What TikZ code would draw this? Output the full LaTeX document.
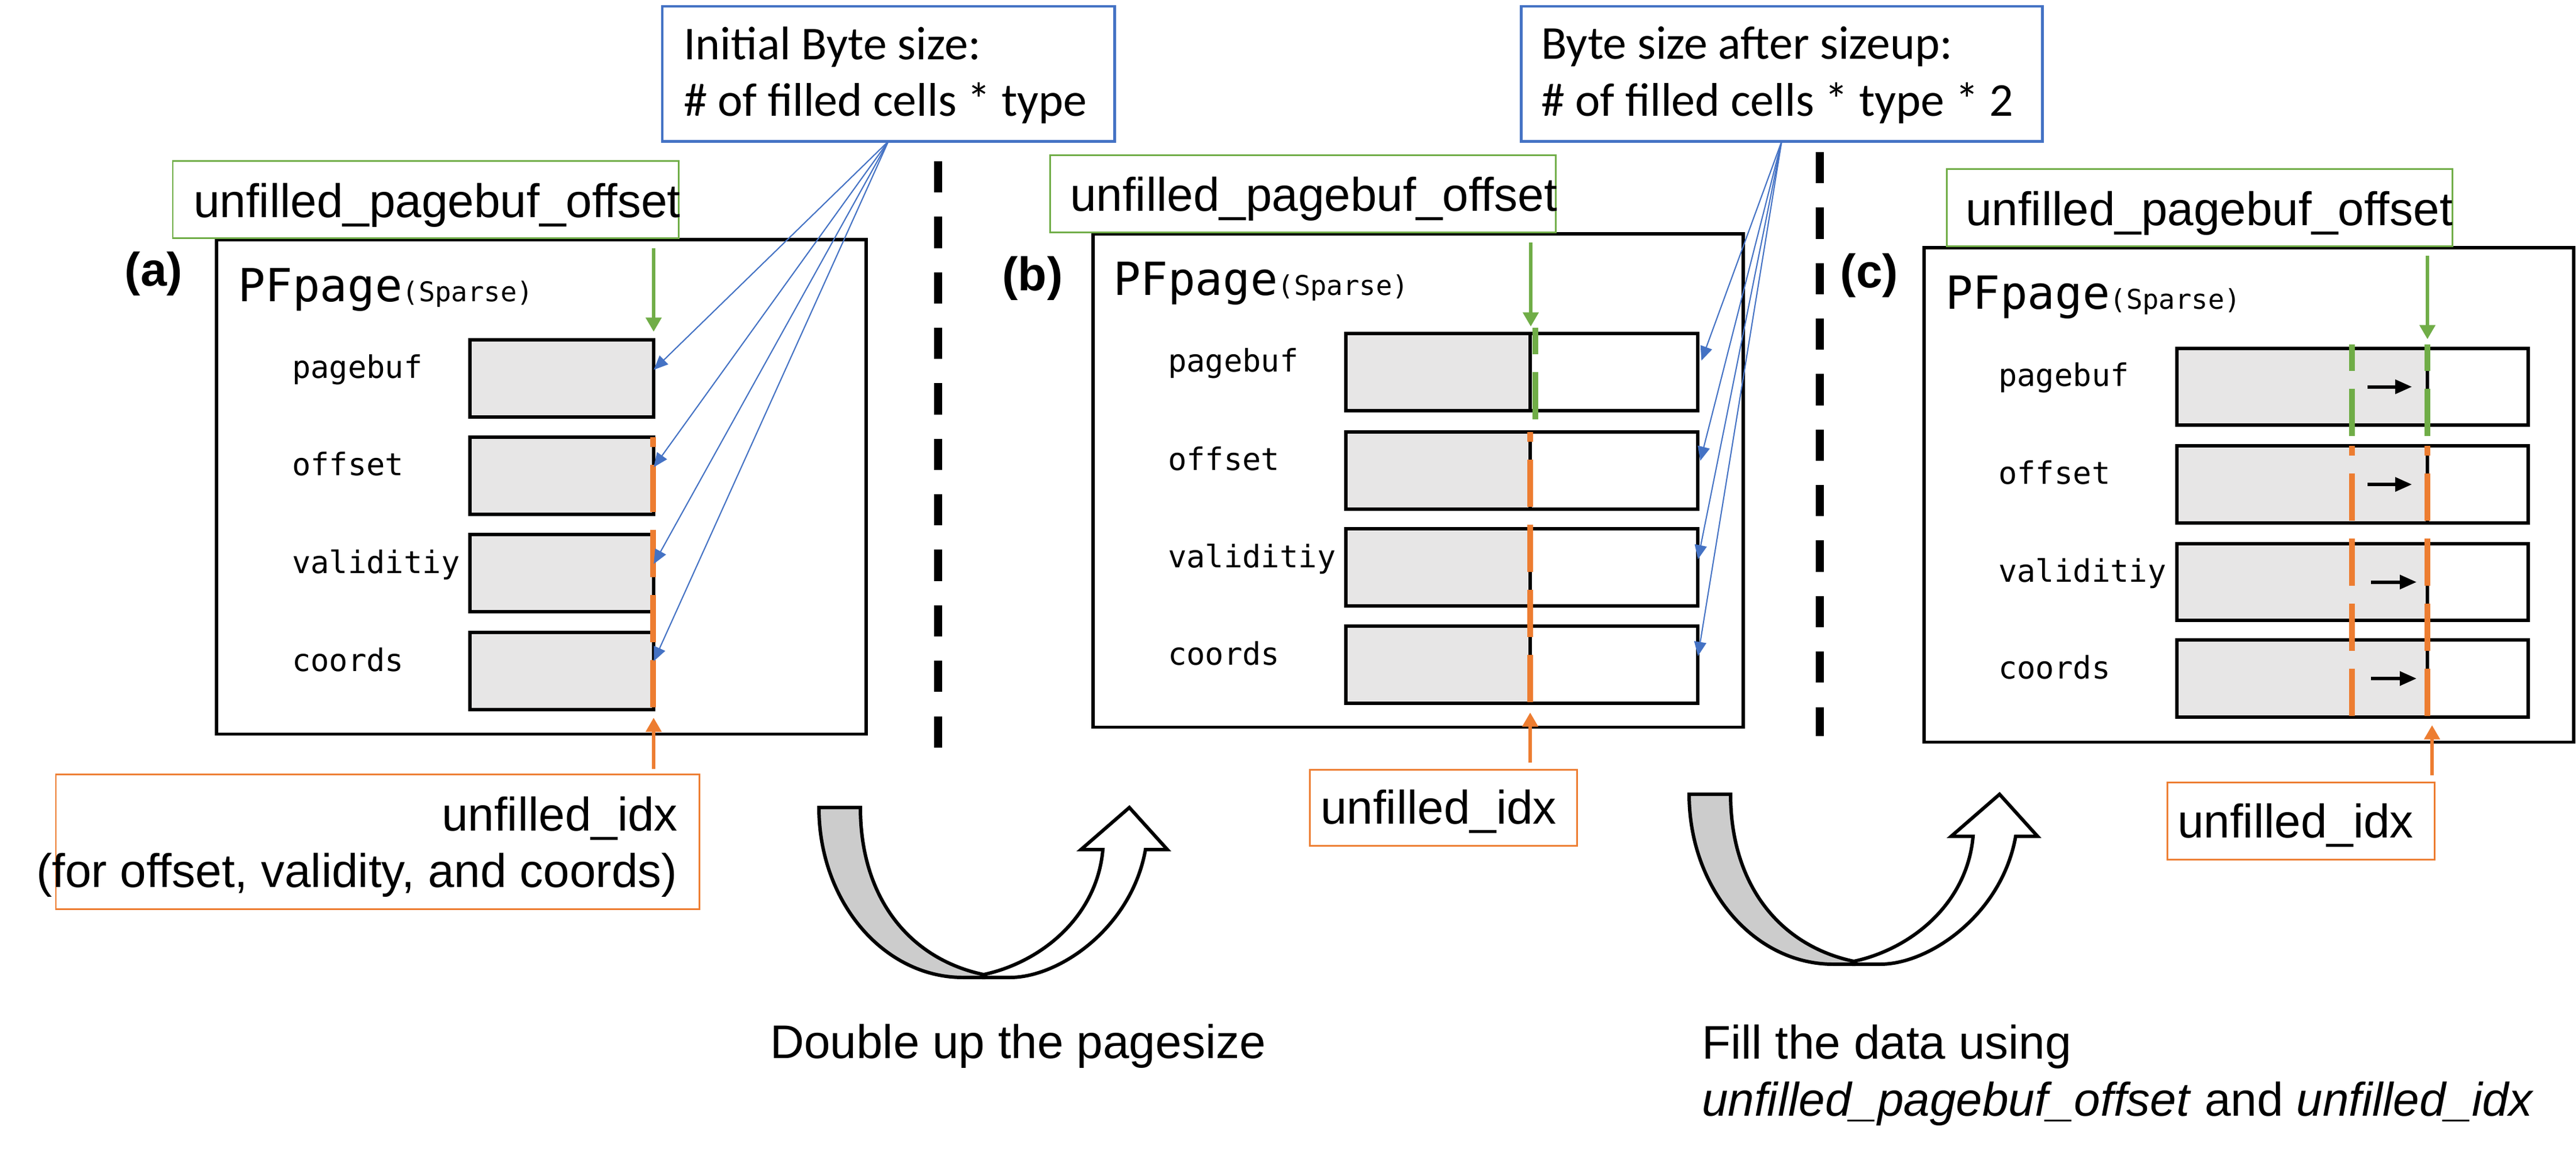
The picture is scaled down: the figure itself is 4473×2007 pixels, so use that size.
\documentclass[tikz,border=0pt]{standalone}
\usepackage{fontspec}
\setmainfont{Liberation Sans}
\newfontfamily\pfcalib{Carlito}
\newfontfamily\pfmono{DejaVu Sans Mono}
\usetikzlibrary{arrows.meta}
\definecolor{pfgreen}{HTML}{70AD47}
\definecolor{pforange}{HTML}{ED7D31}
\definecolor{pfblue}{HTML}{4472C4}
\definecolor{cellgray}{HTML}{E7E6E6}
\definecolor{arrowgray}{HTML}{CCCCCC}
\newcommand\arsz{\fontsize{23.3pt}{28pt}\selectfont}
\newcommand\calsz{\pfcalib\fontsize{23.3pt}{28pt}\selectfont}
\newcommand\lblsz{\pfmono\fontsize{15.3pt}{18pt}\selectfont}
\newcommand\pfsz{\pfmono\fontsize{22.5pt}{26pt}\selectfont}
\newcommand\spsz{\pfmono\fontsize{13.4pt}{16pt}\selectfont}
\begin{document}
\begin{tikzpicture}[x=0.01cm,y=-0.01cm,
 outerbox/.style={draw=black,line width=1.7pt,anchor=north west,inner sep=0,outer sep=0,minimum width=11.27cm,minimum height=8.58cm},
 cellbox/.style={draw=black,line width=1.7pt,anchor=north west,inner sep=0,outer sep=0,minimum height=1.34cm},
 gbox/.style={draw=pfgreen,line width=0.85pt,anchor=north west,inner sep=0,outer sep=0,minimum width=8.78cm,minimum height=1.33cm},
 obox/.style={draw=pforange,line width=0.85pt,anchor=north west,inner sep=0,outer sep=0},
 bluebox/.style={draw=pfblue,line width=1.4pt,anchor=north west,inner sep=0,outer sep=0,minimum height=2.34cm},
 txt/.style={anchor=base west,inner sep=0,outer sep=0},
 txtr/.style={anchor=base east,inner sep=0,outer sep=0},
 panellbl/.style={anchor=center,inner sep=0,outer sep=0,font=\arsz\bfseries},
 garrow/.style={draw=pfgreen,line width=1.9pt,-{Triangle[length=7pt,width=7.5pt]}},
 oarrow/.style={draw=pforange,line width=1.9pt,-{Triangle[length=7pt,width=7.5pt]}},
 barrow/.style={draw=pfblue,line width=0.6pt,-{Triangle[length=7pt,width=6pt]}},
 karrow/.style={draw=black,line width=1.7pt,-{Triangle[length=8.3pt,width=6.8pt]}},
 gdash/.style={draw=pfgreen,line width=2.6pt,dash pattern=on 23.33pt off 8.82pt,dash phase=10.2pt},
 odash/.style={draw=pforange,line width=2.6pt,dash pattern=on 23.33pt off 8.82pt,dash phase=18.5pt},
 sepline/.style={draw=black,line width=4pt,dash pattern=on 15.4pt off 12pt},
 divline/.style={draw=black,line width=1.7pt},
 curvearrow/.style={draw=black,line width=1.7pt,line join=miter}
]
\useasboundingbox (0,0) rectangle (4473,2007);
\fill[white] (0,0) rectangle (4473,2007);

% separators
\coordinate (s1a) at (1629,280); \coordinate (s1b) at (1629,1298);
\coordinate (s2a) at (3160,264); \coordinate (s2b) at (3160,1278);
\draw[sepline] (s1a) -- (s1b);
\draw[sepline] (s2a) -- (s2b);

% ---------- panel (a) ----------
\node[outerbox] (pa) at (376,416) {};
\node[gbox] (gba) at (300,280) {};
\node[txt,font=\arsz] (gta) at (336,378) {unfilled\_pagebuf\_offset};
\node[panellbl] (la) at (267,475) {(a)};
\node[txt] (pfa) at (413,524) {\pfsz PFpage\spsz(Sparse)};
\node[cellbox,fill=cellgray,minimum width=3.19cm] (a1) at (816,590) {};
\node[cellbox,fill=cellgray,minimum width=3.19cm] (a2) at (816,759) {};
\node[cellbox,fill=cellgray,minimum width=3.19cm] (a3) at (816,928) {};
\node[cellbox,fill=cellgray,minimum width=3.19cm] (a4) at (816,1098) {};
\node[txt,font=\lblsz] (ta1) at (507,657) {pagebuf};
\node[txt,font=\lblsz] (ta2) at (507,826) {offset};
\node[txt,font=\lblsz] (ta3) at (507,995) {validitiy};
\node[txt,font=\lblsz] (ta4) at (507,1165) {coords};
\draw[odash] (1134,759) -- (1134,1232);
\coordinate (ga0) at (1135,431); \coordinate (ga1) at (1135,576);
\draw[garrow] (ga0) -- (ga1);
\node[obox,minimum width=11.17cm,minimum height=2.34cm] (oba) at (97,1344) {};
\node[txtr,font=\arsz] (ota1) at (1177,1442) {unfilled\_idx};
\node[txtr,font=\arsz] (ota2) at (1176,1540) {(for offset, validity, and coords)};
\coordinate (oa0) at (1135,1335); \coordinate (oa1) at (1135,1246);
\draw[oarrow] (oa0) -- (oa1);

% ---------- panel (b) ----------
\node[outerbox,minimum width=11.28cm,minimum height=8.56cm] (pb) at (1898,406) {};
\node[gbox] (gbb) at (1823,270) {};
\node[txt,font=\arsz] (gtb) at (1858,367) {unfilled\_pagebuf\_offset};
\node[panellbl] (lb) at (1793,483) {(b)};
\node[txt] (pfb) at (1933,513) {\pfsz PFpage\spsz(Sparse)};
\fill[cellgray] (2337,579) rectangle (2657,713);
\fill[cellgray] (2337,750) rectangle (2657,884);
\fill[cellgray] (2337,918) rectangle (2657,1052);
\fill[cellgray] (2337,1087) rectangle (2657,1221);
\node[cellbox,minimum width=6.11cm] (b1) at (2337,579) {};
\node[cellbox,minimum width=6.11cm] (b2) at (2337,750) {};
\node[cellbox,minimum width=6.11cm] (b3) at (2337,918) {};
\node[cellbox,minimum width=6.11cm] (b4) at (2337,1087) {};
\draw[divline] (2657,579) -- (2657,713);
\draw[divline] (2657,750) -- (2657,884);
\draw[divline] (2657,918) -- (2657,1052);
\draw[divline] (2657,1087) -- (2657,1221);
\node[txt,font=\lblsz] (tb1) at (2028,646) {pagebuf};
\node[txt,font=\lblsz] (tb2) at (2028,817) {offset};
\node[txt,font=\lblsz] (tb3) at (2028,985) {validitiy};
\node[txt,font=\lblsz] (tb4) at (2028,1154) {coords};
\draw[gdash] (2666,569) -- (2666,728);
\draw[odash] (2657,750) -- (2657,1221);
\coordinate (gb0) at (2658,421); \coordinate (gb1) at (2658,567);
\draw[garrow] (gb0) -- (gb1);
\node[obox,minimum width=4.64cm,minimum height=1.32cm] (obb) at (2274,1336) {};
\node[txt,font=\arsz] (otb) at (2293,1430) {unfilled\_idx};
\coordinate (ob0) at (2657,1324); \coordinate (ob1) at (2657,1237);
\draw[oarrow] (ob0) -- (ob1);

% ---------- panel (c) ----------
\node[outerbox,minimum width=11.27cm,minimum height=8.58cm] (pc) at (3341,430) {};
\node[gbox] (gbc) at (3380,294) {};
\node[txt,font=\arsz] (gtc) at (3413,392) {unfilled\_pagebuf\_offset};
\node[panellbl] (lc) at (3246,478) {(c)};
\node[txt] (pfc) at (3378,537) {\pfsz PFpage\spsz(Sparse)};
\fill[cellgray] (3780,605) rectangle (4215,738);
\fill[cellgray] (3780,774) rectangle (4215,908);
\fill[cellgray] (3780,944) rectangle (4215,1077);
\fill[cellgray] (3780,1111) rectangle (4215,1245);
\node[cellbox,minimum width=6.10cm,minimum height=1.33cm] (c1) at (3780,605) {};
\node[cellbox,minimum width=6.10cm] (c2) at (3780,774) {};
\node[cellbox,minimum width=6.10cm,minimum height=1.33cm] (c3) at (3780,944) {};
\node[cellbox,minimum width=6.10cm] (c4) at (3780,1111) {};
\draw[divline] (4215,605) -- (4215,738);
\draw[divline] (4215,774) -- (4215,908);
\draw[divline] (4215,944) -- (4215,1077);
\draw[divline] (4215,1111) -- (4215,1245);
\node[txt,font=\lblsz] (tc1) at (3470,671) {pagebuf};
\node[txt,font=\lblsz] (tc2) at (3470,841) {offset};
\node[txt,font=\lblsz] (tc3) at (3470,1010) {validitiy};
\node[txt,font=\lblsz] (tc4) at (3470,1178) {coords};
\draw[gdash] (4084,598) -- (4084,758);
\draw[gdash] (4215,598) -- (4215,758);
\draw[odash] (4084,774) -- (4084,1245);
\draw[odash] (4215,774) -- (4215,1245);
\draw[karrow] ([xshift=3.31cm]c1.west) -- ([xshift=4.08cm]c1.west);
\draw[karrow] ([xshift=3.31cm]c2.west) -- ([xshift=4.08cm]c2.west);
\draw[karrow] ([xshift=3.37cm]c3.west) -- ([xshift=4.16cm]c3.west);
\draw[karrow] ([xshift=3.37cm]c4.west) -- ([xshift=4.16cm]c4.west);
\coordinate (gc0) at (4215,444); \coordinate (gc1) at (4215,589);
\draw[garrow] (gc0) -- (gc1);
\node[obox,minimum width=4.64cm,minimum height=1.34cm] (obc) at (3763,1358) {};
\node[txt,font=\arsz] (otc) at (3781,1454) {unfilled\_idx};
\coordinate (oc0) at (4223,1346); \coordinate (oc1) at (4223,1259);
\draw[oarrow] (oc0) -- (oc1);

% ---------- blue boxes ----------
\node[bluebox,minimum width=7.85cm] (bl1) at (1150,11) {};
\node[txt,font=\calsz] (bt1a) at (1187,104) {Initial Byte size:};
\node[txt,font=\calsz] (bt1b) at (1187,202) {\# of filled cells * type};
\node[bluebox,minimum width=9.05cm] (bl2) at (2641,11) {};
\node[txt,font=\calsz] (bt2a) at (2676,103) {Byte size after sizeup:};
\node[txt,font=\calsz] (bt2b) at (2676,202) {\# of filled cells * type * 2};

\draw[barrow] (bl1.south) -- ([yshift=0.15cm]a1.east);
\draw[barrow] (bl1.south) -- ([yshift=0.15cm]a2.east);
\draw[barrow] (bl1.south) -- ([yshift=0.16cm]a3.east);
\draw[barrow] (bl1.south) -- ([yshift=0.17cm]a4.east);
\draw[barrow] (bl2.south) -- ([xshift=0.06cm,yshift=0.2cm]b1.east);
\draw[barrow] (bl2.south) -- ([xshift=0.04cm,yshift=0.17cm]b2.east);
\draw[barrow] (bl2.south) -- ([yshift=0.14cm]b3.east);
\draw[barrow] (bl2.south) -- ([yshift=0.15cm]b4.east);

% ---------- curved arrows ----------
\foreach \dx/\dy in {0/0, 1511/-23} {
\begin{scope}[shift={(\dx,\dy)}]
\filldraw[curvearrow,fill=arrowgray] (1422,1402) .. controls (1422,1565) and (1534,1697) .. (1672,1697) -- (1708,1697) -- (1708,1692) .. controls (1580,1665) and (1494,1560) .. (1494,1402) -- cycle;
\filldraw[curvearrow,fill=white] (1708,1692) .. controls (1810,1670) and (1905,1590) .. (1915,1475) -- (1877,1475) -- (1961,1402) -- (2027,1475) -- (1989,1475) .. controls (1965,1610) and (1840,1697) .. (1754,1697) -- (1708,1697) -- cycle;
\end{scope}
}

% ---------- bottom captions ----------
\node[txt,font=\arsz] (cap1) at (1337,1837) {Double up the pagesize};
\node[txt,font=\arsz] (cap2a) at (2955,1838) {Fill the data using};
\node[txt,font=\arsz] (cap2b) at (2955,1937) {\textit{unfilled\_pagebuf\_offset} and \textit{unfilled\_idx}};
\end{tikzpicture}
\end{document}
